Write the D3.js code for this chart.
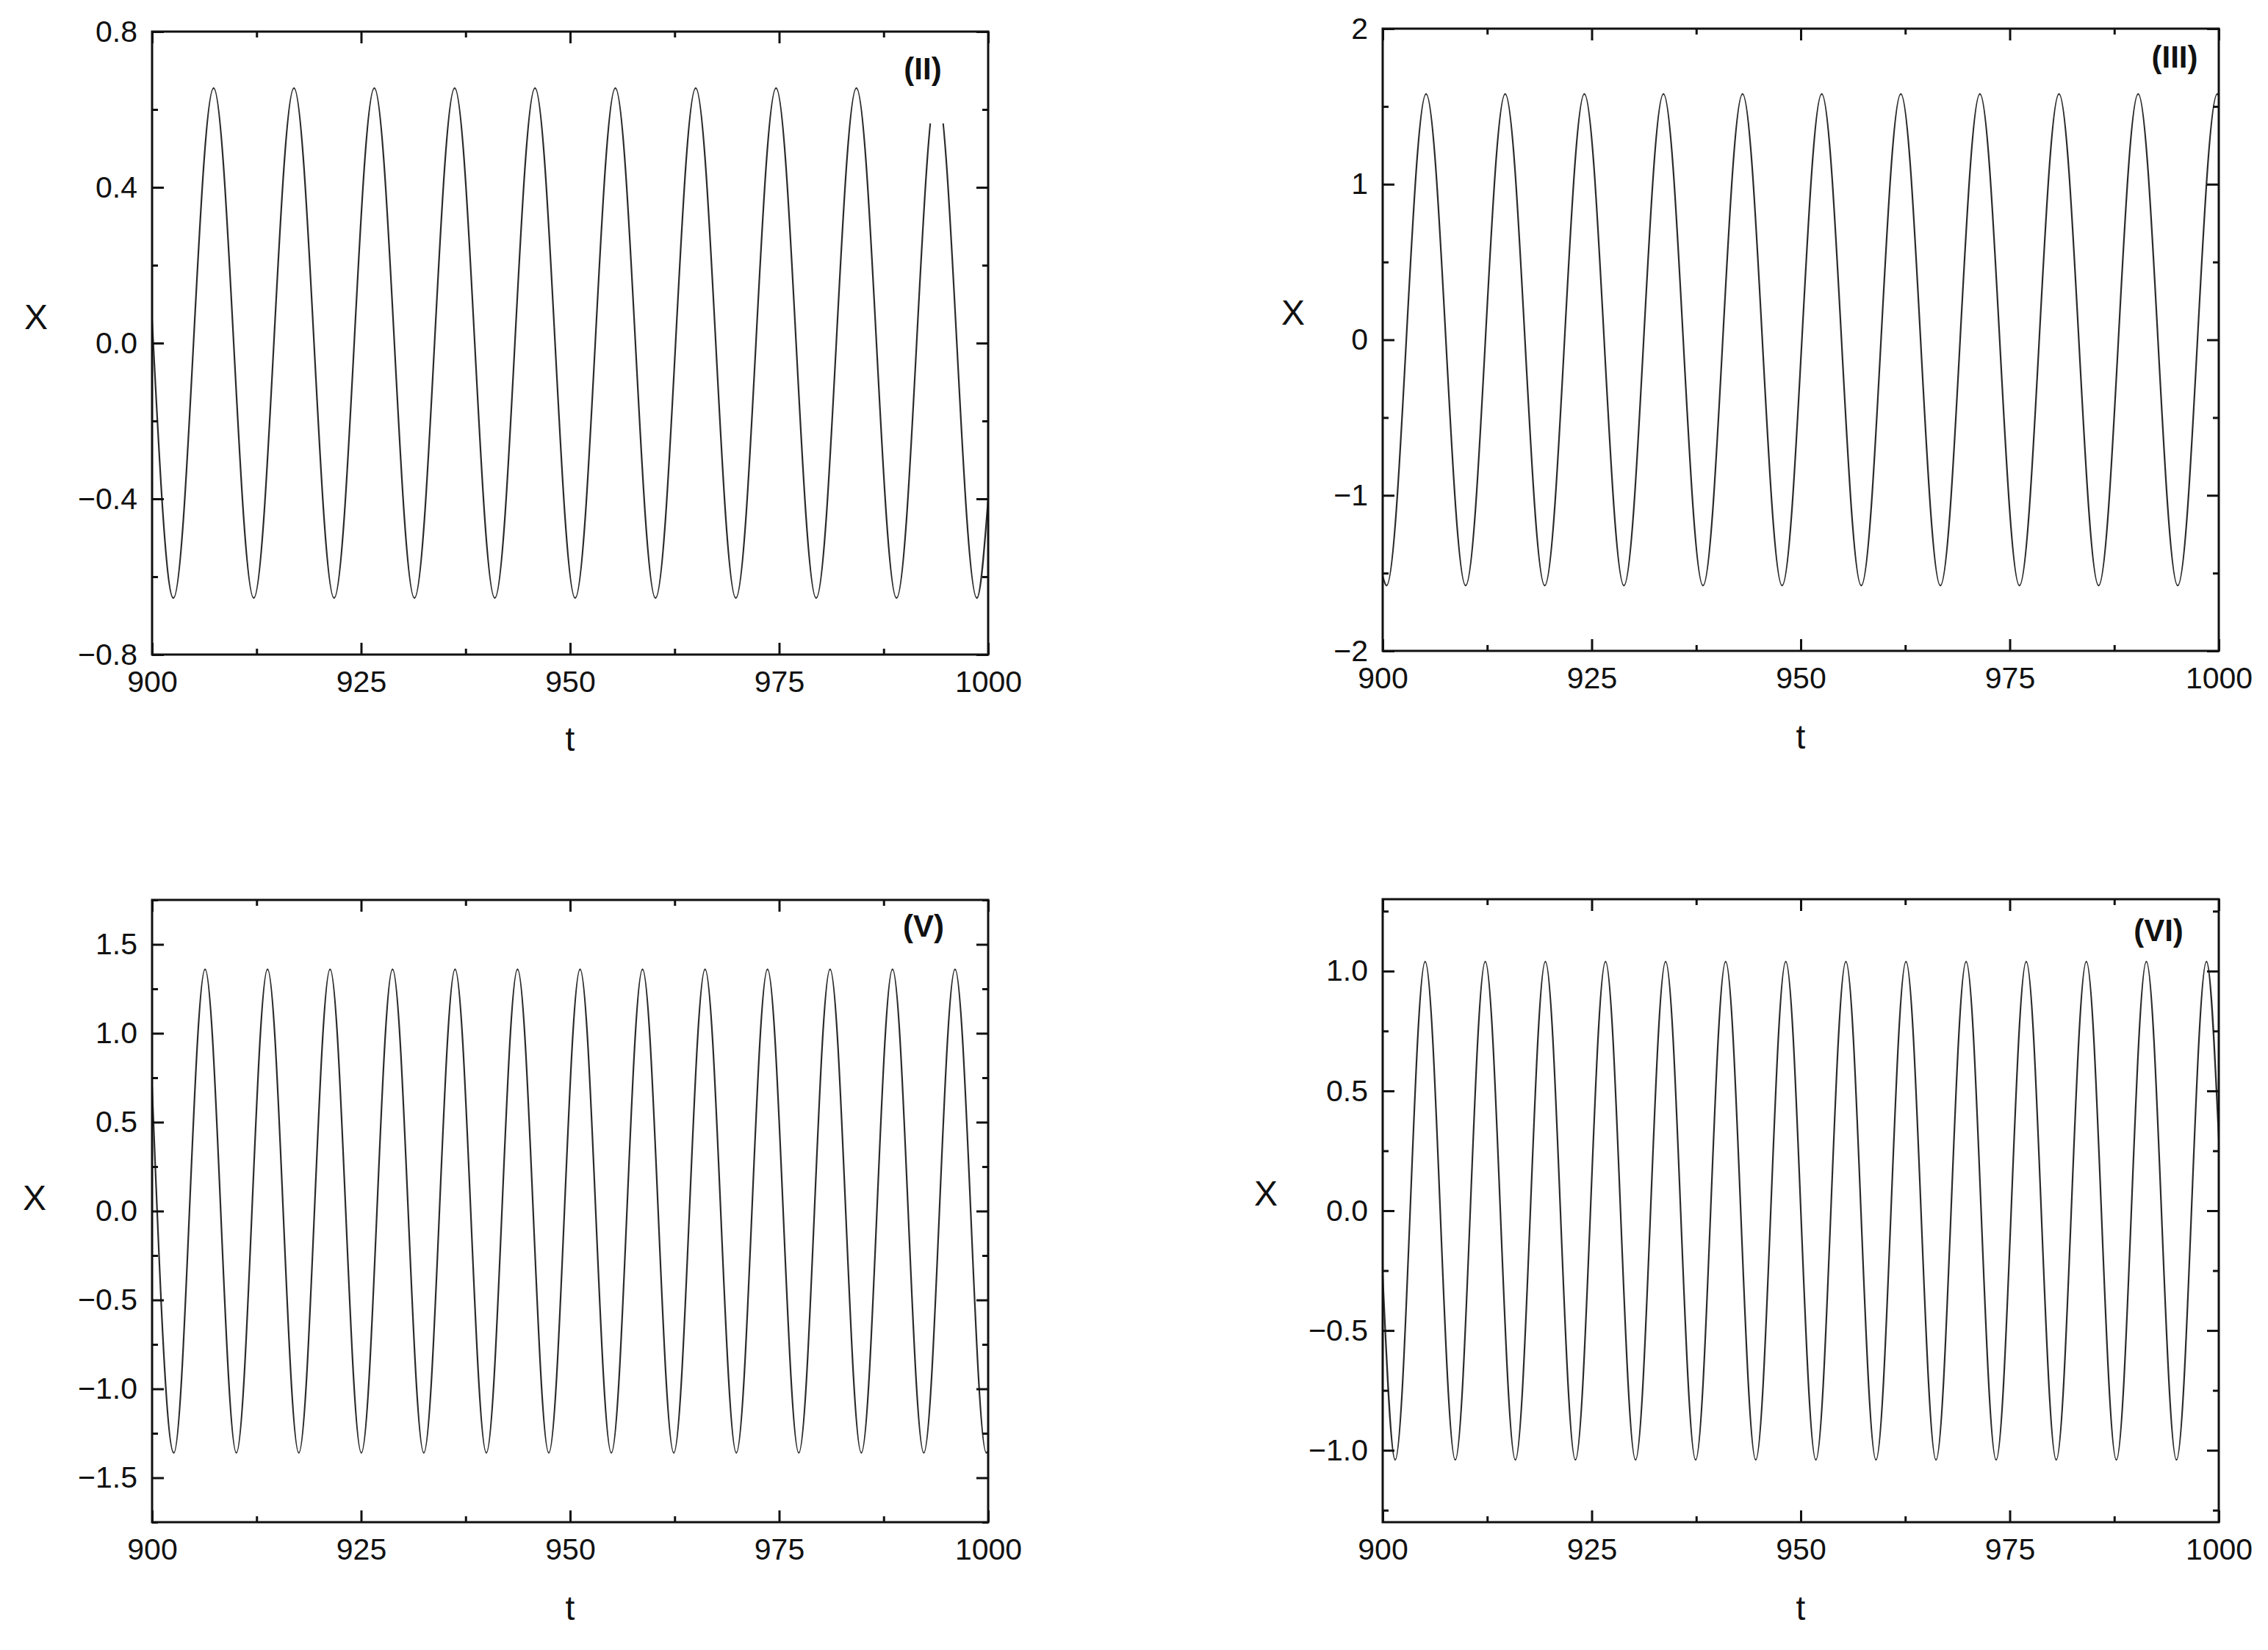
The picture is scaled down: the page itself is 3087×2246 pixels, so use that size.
<!DOCTYPE html>
<html>
<head>
<meta charset="utf-8">
<script src="https://cdn.jsdelivr.net/npm/d3@7/dist/d3.min.js"></script>
<style>
  html, body { margin: 0; padding: 0; background: #fff; }
  svg { display: block; }
  text { font-family: "Liberation Sans", Arial, Helvetica, sans-serif; fill: #111; }
</style>
</head>
<body>
<svg id="chart" width="3087" height="2246"></svg>
<script>
// ---------------- DATA ----------------
const tTickValues = [900, 925, 950, 975, 1000];

// Panel (II): extrema of x(t) plus the start/end samples
const tII = [900, 902.55, 907.36, 912.16, 916.97, 921.77, 926.58, 931.38, 936.19, 940.99, 945.80,
             950.60, 955.41, 960.21, 965.02, 969.82, 974.63, 979.43, 984.24, 989.04, 993.85, 998.65, 1000];
const xII = [0.06, -0.655, 0.655, -0.655, 0.655, -0.655, 0.655, -0.655, 0.655, -0.655, 0.655,
             -0.655, 0.655, -0.655, 0.655, -0.655, 0.655, -0.655, 0.655, -0.655, 0.655, -0.655, -0.40];

// Panel (III)
const tIII = [900, 900.46, 905.19, 909.92, 914.65, 919.38, 924.12, 928.85, 933.58, 938.31, 943.04, 947.77,
              952.51, 957.24, 961.97, 966.70, 971.43, 976.16, 980.89, 985.63, 990.36, 995.09, 999.82, 1000];
const xIII = [-1.52, -1.58, 1.58, -1.58, 1.58, -1.58, 1.58, -1.58, 1.58, -1.58, 1.58, -1.58,
              1.58, -1.58, 1.58, -1.58, 1.58, -1.58, 1.58, -1.58, 1.58, -1.58, 1.58, 1.57];

// Panel (V)
const tV = [900, 902.60, 906.34, 910.08, 913.81, 917.55, 921.29, 925.03, 928.76, 932.50, 936.24, 939.98,
            943.71, 947.45, 951.19, 954.93, 958.66, 962.40, 966.14, 969.88, 973.61, 977.35, 981.09,
            984.83, 988.56, 992.30, 996.04, 999.78, 1000];
const xV = [0.70, -1.36, 1.36, -1.36, 1.36, -1.36, 1.36, -1.36, 1.36, -1.36, 1.36, -1.36,
            1.36, -1.36, 1.36, -1.36, 1.36, -1.36, 1.36, -1.36, 1.36, -1.36, 1.36,
            -1.36, 1.36, -1.36, 1.36, -1.36, -1.35];

// Panel (VI)
const tVI = [900, 901.49, 905.08, 908.68, 912.27, 915.87, 919.46, 923.05, 926.65, 930.24, 933.84, 937.43,
             941.02, 944.62, 948.21, 951.81, 955.40, 959.00, 962.59, 966.18, 969.78, 973.37, 976.97,
             980.56, 984.16, 987.75, 991.34, 994.94, 998.53, 1000];
const xVI = [-0.27, -1.04, 1.04, -1.04, 1.04, -1.04, 1.04, -1.04, 1.04, -1.04, 1.04, -1.04,
             1.04, -1.04, 1.04, -1.04, 1.04, -1.04, 1.04, -1.04, 1.04, -1.04, 1.04,
             -1.04, 1.04, -1.04, 1.04, -1.04, 1.04, 0.30];

const panelLabels = ["(II)", "(III)", "(V)", "(VI)"];
const yDomains = [[-0.8, 0.8], [-2, 2], [-1.75, 1.75], [-1.3, 1.3]];
const yMajorTicks = [
  [-0.8, -0.4, 0.0, 0.4, 0.8],
  [-2, -1, 0, 1, 2],
  [-1.5, -1.0, -0.5, 0.0, 0.5, 1.0, 1.5],
  [-1.0, -0.5, 0.0, 0.5, 1.0]
];
const yMinorTicks = [
  [-0.6, -0.2, 0.2, 0.6],
  [-1.5, -0.5, 0.5, 1.5],
  [-1.75, -1.25, -0.75, -0.25, 0.25, 0.75, 1.25, 1.75],
  [-1.25, -0.75, -0.25, 0.25, 0.75, 1.25]
];
const yFormats = [".1f", "d", ".1f", ".1f"];
const tMinorTicks = [912.5, 937.5, 962.5, 987.5];
const xTitle = "X";
const tTitle = "t";

// ---------------- LAYOUT ----------------
const layout = [
  { left: 207,  right: 1345, top: 43,   bottom: 891,  lx: 1256, ly: 108,  xtx: 49,   xty: 448,  tty: 1022,
    labelBox: { x: 1222, y: 60, w: 78, h: 108 } },
  { left: 1882, right: 3020, top: 39,   bottom: 886,  lx: 2960, ly: 92,   xtx: 1760, xty: 442,  tty: 1019 },
  { left: 207,  right: 1345, top: 1225, bottom: 2072, lx: 1257, ly: 1275, xtx: 47,   xty: 1647, tty: 2205 },
  { left: 1882, right: 3020, top: 1224, bottom: 2072, lx: 2938, ly: 1281, xtx: 1723, xty: 1641, tty: 2205 }
];
const series = [[tII, xII], [tIII, xIII], [tV, xV], [tVI, xVI]];

const svg = d3.select("#chart");
const MAJOR = 16, MINOR = 8;

series.forEach(([ts, xs], i) => {
  const L = layout[i];
  const w = L.right - L.left, h = L.bottom - L.top;
  const g = svg.append("g").attr("transform", `translate(${L.left},${L.top})`);
  const x = d3.scaleLinear().domain([900, 1000]).range([0, w]);
  const y = d3.scaleLinear().domain(yDomains[i]).range([h, 0]);

  const clipId = "clip" + i;
  g.append("clipPath").attr("id", clipId).append("rect").attr("width", w).attr("height", h);

  const data = ts.map((t, k) => ({ t, v: xs[k] }));
  const line = d3.line().x(d => x(d.t)).y(d => y(d.v)).curve(d3.curveMonotoneX);
  g.append("path").datum(data)
    .attr("clip-path", `url(#${clipId})`)
    .attr("d", line)
    .attr("fill", "none")
    .attr("stroke", "#2b2b2b")
    .attr("stroke-width", 2.2)
    .attr("stroke-linejoin", "round");

  // label background (white box in the original)
  if (L.labelBox) {
    g.append("rect")
      .attr("x", L.labelBox.x - L.left).attr("y", L.labelBox.y - L.top)
      .attr("width", L.labelBox.w).attr("height", L.labelBox.h)
      .attr("fill", "#fff");
  }

  const styleAxis = sel => {
    sel.select(".domain").remove();
    sel.selectAll(".tick line").attr("stroke", "#111").attr("stroke-width", 3);
    sel.selectAll(".tick text").attr("font-size", 41).attr("fill", "#111")
      .style("font-family", "'Liberation Sans', Arial, sans-serif");
  };

  const fmt = d3.format(yFormats[i]);
  // bottom
  g.append("g").attr("transform", `translate(0,${h})`)
    .call(d3.axisBottom(x).tickValues(tTickValues).tickSize(-MAJOR).tickPadding(22).tickFormat(d3.format("d")))
    .call(styleAxis);
  g.append("g").attr("transform", `translate(0,${h})`)
    .call(d3.axisBottom(x).tickValues(tMinorTicks).tickSize(-MINOR).tickFormat(""))
    .call(styleAxis);
  // top
  g.append("g")
    .call(d3.axisTop(x).tickValues(tTickValues).tickSize(-MAJOR).tickFormat(""))
    .call(styleAxis);
  g.append("g")
    .call(d3.axisTop(x).tickValues(tMinorTicks).tickSize(-MINOR).tickFormat(""))
    .call(styleAxis);
  // left
  g.append("g")
    .call(d3.axisLeft(y).tickValues(yMajorTicks[i]).tickSize(-MAJOR).tickPadding(20).tickFormat(fmt))
    .call(styleAxis);
  g.append("g")
    .call(d3.axisLeft(y).tickValues(yMinorTicks[i]).tickSize(-MINOR).tickFormat(""))
    .call(styleAxis);
  // right
  g.append("g").attr("transform", `translate(${w},0)`)
    .call(d3.axisRight(y).tickValues(yMajorTicks[i]).tickSize(-MAJOR).tickFormat(""))
    .call(styleAxis);
  g.append("g").attr("transform", `translate(${w},0)`)
    .call(d3.axisRight(y).tickValues(yMinorTicks[i]).tickSize(-MINOR).tickFormat(""))
    .call(styleAxis);

  // frame
  g.append("rect").attr("width", w).attr("height", h)
    .attr("fill", "none").attr("stroke", "#111").attr("stroke-width", 3);

  // panel label
  svg.append("text").attr("x", L.lx).attr("y", L.ly)
    .attr("text-anchor", "middle").attr("font-size", 42).attr("font-weight", "bold")
    .text(panelLabels[i]);

  // axis titles
  svg.append("text").attr("x", L.xtx).attr("y", L.xty)
    .attr("text-anchor", "middle").attr("font-size", 48).text(xTitle);
  svg.append("text").attr("x", (L.left + L.right) / 2).attr("y", L.tty)
    .attr("text-anchor", "middle").attr("font-size", 46).text(tTitle);
});
</script>
</body>
</html>
